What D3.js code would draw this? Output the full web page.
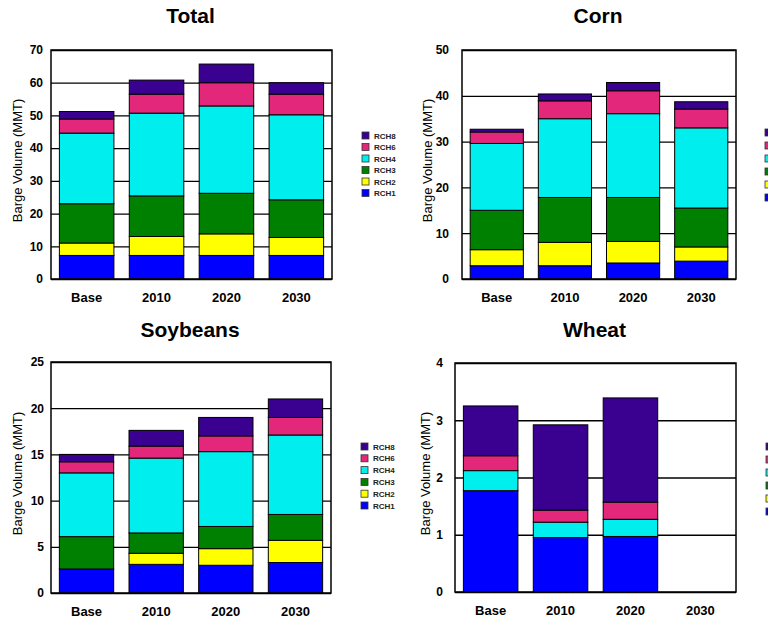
<!DOCTYPE html>
<html>
<head>
<meta charset="utf-8">
<script src="https://cdn.jsdelivr.net/npm/d3@7"></script>
<style>
  body { margin: 0; background: #fff; }
  svg { display: block; font-family: "Liberation Sans", Arial, sans-serif; }
</style>
</head>
<body>
<div class="container"></div>
<script>
const categories = ['Base', '2010', '2020', '2030'];
const seriesNames = ['RCH1', 'RCH2', 'RCH3', 'RCH4', 'RCH6', 'RCH8'];
const seriesColors = ['#0000ff', '#ffff00', '#008000', '#00eeee', '#e3287c', '#3a0090'];

// one row per series (RCH1..RCH8), one value per category
const totalValues = [
  [7.2, 7.2, 7.2, 7.2],
  [3.8, 5.8, 6.6, 5.5],
  [12.0, 12.4, 12.4, 11.5],
  [21.6, 25.3, 26.7, 26.0],
  [4.3, 5.8, 7.1, 6.3],
  [2.3, 4.3, 5.7, 3.5]
];
const cornValues = [
  [2.9, 2.9, 3.5, 3.9],
  [3.5, 5.1, 4.7, 3.1],
  [8.6, 9.8, 9.6, 8.5],
  [14.6, 17.2, 18.3, 17.5],
  [2.5, 3.9, 5.0, 4.1],
  [0.6, 1.5, 1.8, 1.6]
];
const soybeanValues = [
  [2.6, 3.1, 3.0, 3.3],
  [0, 1.2, 1.8, 2.4],
  [3.5, 2.2, 2.4, 2.8],
  [6.9, 8.1, 8.1, 8.6],
  [1.2, 1.3, 1.7, 1.9],
  [0.8, 1.7, 2.0, 2.0]
];
const wheatValues = [
  [1.77, 0.95, 0.97, 0],
  [0, 0, 0, 0],
  [0, 0, 0, 0],
  [0.35, 0.27, 0.30, 0],
  [0.26, 0.21, 0.30, 0],
  [0.87, 1.49, 1.82, 0]
];

const totalTicks = [0, 10, 20, 30, 40, 50, 60, 70];
const cornTicks = [0, 10, 20, 30, 40, 50];
const soybeanTicks = [0, 5, 10, 15, 20, 25];
const wheatTicks = [0, 1, 2, 3, 4];

const svg = d3.select('.container')
  .append('svg')
  .attr('width', 768)
  .attr('height', 620);

function drawPanel(o) {
  const g = svg.append('g');
  const w = o.x1 - o.x0, h = o.y1 - o.y0;

  const rows = categories.map((c, i) => {
    const r = { cat: c };
    seriesNames.forEach((s, j) => r[s] = o.values[j][i]);
    return r;
  });
  const stacked = d3.stack().keys(seriesNames)(rows);

  const x = d3.scaleBand()
    .domain(categories)
    .range([o.x0, o.x1])
    .paddingInner(0.22)
    .paddingOuter(0.12);

  const y = d3.scaleLinear()
    .domain([0, d3.max(o.ticks)])
    .range([o.y1, o.y0]);

  // grid lines
  g.append('g')
    .attr('transform', `translate(${o.x0},0)`)
    .call(d3.axisLeft(y).tickValues(o.ticks).tickSize(-w).tickFormat(''))
    .call(a => a.select('.domain').remove())
    .call(a => a.selectAll('line').attr('stroke', '#000').attr('stroke-width', 1.3));

  g.append('g')
    .selectAll('g')
    .data(stacked)
    .enter()
    .append('g')
    .attr('fill', (d, i) => seriesColors[i])
    .selectAll('rect')
    .data(d => d)
    .enter()
    .append('rect')
    .attr('x', d => x(d.data.cat))
    .attr('width', x.bandwidth())
    .attr('y', d => y(d[1]))
    .attr('height', d => y(d[0]) - y(d[1]))
    .attr('stroke', d => (d.data.cat === '2030' && d[1] === 0) ? 'none' : '#000')
    .attr('stroke-width', 1);

  g.append('rect')
    .attr('x', o.x0)
    .attr('y', o.y0)
    .attr('width', w)
    .attr('height', h)
    .attr('fill', 'none')
    .attr('stroke', '#000')
    .attr('stroke-width', 1.5);

  // y axis labels
  g.append('g')
    .attr('transform', `translate(${o.x0},0)`)
    .call(d3.axisLeft(y).tickValues(o.ticks).tickFormat(d3.format('d')).tickSize(0).tickPadding(o.tickPad))
    .call(a => a.select('.domain').remove())
    .call(a => a.selectAll('text')
      .style('font-family', '"Liberation Sans", Arial, sans-serif')
      .style('font-size', '12px')
      .style('font-weight', 'bold')
      .attr('fill', '#000'));

  // x axis labels
  g.append('g')
    .attr('transform', `translate(0,${o.y1})`)
    .call(d3.axisBottom(x).tickSize(0).tickPadding(14))
    .call(a => a.select('.domain').remove())
    .call(a => a.selectAll('text')
      .style('font-family', '"Liberation Sans", Arial, sans-serif')
      .style('font-size', '13px')
      .style('font-weight', 'bold')
      .attr('fill', '#000'));

  g.append('text')
    .attr('x', o.x0 + w / 2 - 1)
    .attr('y', o.titleY)
    .attr('text-anchor', 'middle')
    .style('font-size', '21px')
    .style('font-weight', 'bold')
    .text(o.title);

  g.append('text')
    .attr('transform', `translate(${o.labelX},${o.y0 + h / 2 - 4}) rotate(-90)`)
    .attr('text-anchor', 'middle')
    .attr('dy', '0.35em')
    .style('font-size', '13px')
    .text('Barge Volume (MMT)');

  // legend, top entry is the last series
  const legend = g.append('g')
    .attr('transform', `translate(${o.legendX},${o.legendY})`);
  const items = seriesNames.slice().reverse();
  const cols = seriesColors.slice().reverse();
  items.forEach((s, i) => {
    legend.append('rect')
      .attr('x', 0)
      .attr('y', i * o.legendStep)
      .attr('width', 7)
      .attr('height', 7)
      .attr('fill', cols[i])
      .attr('stroke', '#333')
      .attr('stroke-width', 0.8);
    // the right-hand legends run off the page in the original, only swatches show
    if (o.legendText) {
      legend.append('text')
        .attr('x', 12)
        .attr('y', i * o.legendStep + 6.5)
        .style('font-size', '8px')
        .style('font-weight', 'bold')
        .attr('fill', '#222')
        .text(s);
    }
  });
}

drawPanel({ title: 'Total', values: totalValues, ticks: totalTicks,
  x0: 51, x1: 332, y0: 50, y1: 279, titleY: 23, tickPad: 8, labelX: 17,
  legendX: 362, legendY: 132, legendStep: 11.5, legendText: true });

drawPanel({ title: 'Corn', values: cornValues, ticks: cornTicks,
  x0: 462, x1: 736, y0: 50, y1: 279, titleY: 23, tickPad: 13, labelX: 427,
  legendX: 765, legendY: 129, legendStep: 13, legendText: false });

drawPanel({ title: 'Soybeans', values: soybeanValues, ticks: soybeanTicks,
  x0: 51, x1: 331, y0: 362, y1: 593, titleY: 337, tickPad: 7, labelX: 17,
  legendX: 361, legendY: 443, legendStep: 11.8, legendText: true });

drawPanel({ title: 'Wheat', values: wheatValues, ticks: wheatTicks,
  x0: 455, x1: 736, y0: 363, y1: 592, titleY: 337, tickPad: 12, labelX: 425,
  legendX: 766, legendY: 443, legendStep: 13, legendText: false });
</script>
</body>
</html>
